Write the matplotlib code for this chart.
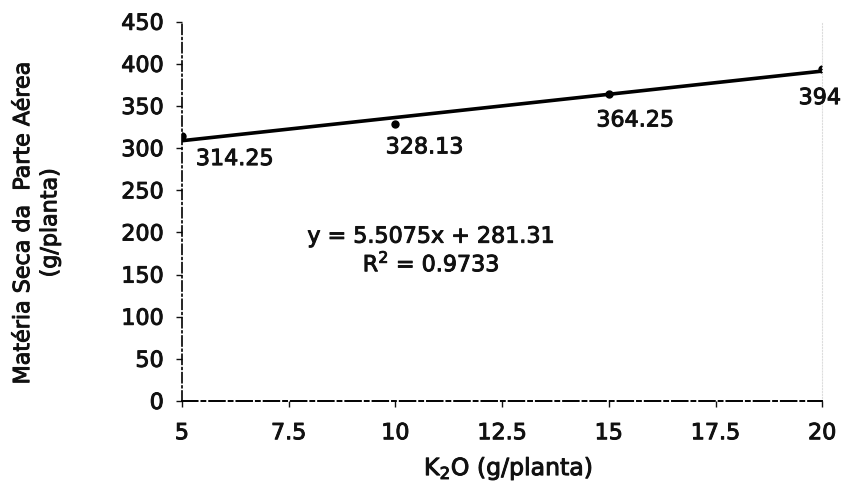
import numpy as np
import matplotlib.pyplot as plt
import matplotlib.patheffects as pe

plt.rcParams['font.family'] = ['DejaVu Sans']

# data
k2o = [5, 10, 15, 20]
materia_seca = [314.25, 328.13, 364.25, 394]
point_labels = ['314.25', '328.13', '364.25', '394']
slope, intercept = 5.5075, 281.31
x_ticks = [5, 7.5, 10, 12.5, 15, 17.5, 20]
x_ticklabels = ['5', '7.5', '10', '12.5', '15', '17.5', '20']
y_ticks = list(range(0, 451, 50))

ink = '#111111'
thick = [pe.withStroke(linewidth=0.7, foreground=ink)]

fig = plt.figure(figsize=(8.48, 4.99), dpi=100)
ax = fig.add_axes([0.2146, 0.1964, 0.755, 0.760])

# linear trend line + points
xs = np.array([k2o[0], k2o[-1]])
ax.plot(xs, slope * xs + intercept, color='black', lw=2.6, solid_capstyle='round')
ax.plot(k2o, materia_seca, 'o', color='black', ms=5)

# data labels, offsets in points
offsets = [(10, -16.5), (-7, -16.5), (-9, -19), (-17, -21)]
for x, y, lab, (dx, dy) in zip(k2o, materia_seca, point_labels, offsets):
    ax.annotate(lab, (x, y), xytext=(dx, dy), textcoords='offset points',
                ha='left', va='center', fontsize=16, color=ink, path_effects=thick)

ax.text(10.84, 195, 'y = 5.5075x + 281.31', ha='center', va='center',
        fontsize=16, color=ink, path_effects=thick)
ax.text(10.84, 164, 'R$^2$ = 0.9733', ha='center', va='center',
        fontsize=16, color=ink, path_effects=thick)

ax.set_xlim(5, 20)
ax.set_ylim(0, 450)
ax.set_xticks(x_ticks)
ax.set_xticklabels(x_ticklabels)
ax.set_yticks(y_ticks)
ax.tick_params(axis='both', labelsize=16, direction='out', length=4, width=1,
               colors=ink)
ax.tick_params(axis='y', pad=9)
ax.tick_params(axis='x', pad=12)
for lab in ax.get_xticklabels() + ax.get_yticklabels():
    lab.set_path_effects(thick)

ax.spines['top'].set_visible(False)
ax.spines['right'].set_color('#dddddd')
ax.spines['right'].set_linestyle(':')
ax.spines['right'].set_linewidth(0.8)
ax.spines['left'].set_linestyle((0, (6, 2, 1, 2)))
ax.spines['left'].set_linewidth(1.2)
ax.spines['bottom'].set_linestyle((0, (8, 2, 2, 2)))
ax.spines['bottom'].set_linewidth(1.4)

ax.set_xlabel('K$_2$O (g/planta)', fontsize=17, color=ink, path_effects=thick)
ax.xaxis.set_label_coords(0.51, -0.14)
ax.set_ylabel('Matéria Seca da  Parte Aérea\n(g/planta)', fontsize=16,
              color=ink, linespacing=1.45, path_effects=thick)
ax.yaxis.set_label_coords(-0.19, 0.47)

fig.savefig('out.png', dpi=100)
